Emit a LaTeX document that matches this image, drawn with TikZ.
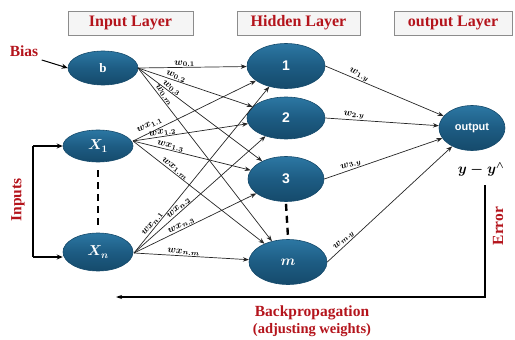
\documentclass[tikz,border=0pt]{standalone}
\usepackage{amsmath,bm}
\usepackage{fontspec}
\setmainfont{Liberation Serif}
\newfontfamily\labsans{Liberation Sans}
\usetikzlibrary{arrows.meta,shapes.geometric,calc}

\definecolor{nodeblue}{HTML}{1D5C83}
\definecolor{nodelight}{HTML}{2C77A3}
\definecolor{nodedark}{HTML}{154A6B}
\definecolor{titlered}{HTML}{B4141C}

\tikzset{
  neuron/.style={ellipse, draw=nodedark, line width=0.6pt,
    top color=nodelight, bottom color=nodedark, middle color=nodeblue,
    text=white, inner sep=0pt},
  layerbox/.style={draw=black!45, fill=black!4, line width=0.7pt,
    minimum height=24pt, inner sep=0pt, text=titlered,
    font=\fontsize{16}{18}\selectfont\bfseries},
  redtext/.style={text=titlered, font=\fontsize{15.5}{17}\selectfont\bfseries},
  wire/.style={-{Stealth[length=6pt,width=4.5pt]}, draw=black!85, line width=0.7pt},
  wlab/.style={sloped, above, inner sep=0.6pt, font=\fontsize{10}{11}\selectfont\boldmath},
  dotgap/.style={line width=2.4pt, dash pattern=on 7pt off 5pt},
  plainline/.style={draw=black, line width=1.1pt}
}

\begin{document}
\begin{tikzpicture}[x=1pt, y=-1pt]
\useasboundingbox (0,0) rectangle (515,340);

% layer titles
\node[layerbox, minimum width=125pt] (tin)  at (130.5,23) {Input Layer};
\node[layerbox, minimum width=123pt] (thid) at (298.5,23) {Hidden Layer};
\node[layerbox, minimum width=118pt] (tout) at (453,23)   {output Layer};

% input layer
\node[neuron, minimum width=70pt, minimum height=34pt, font=\fontsize{13}{14}\selectfont\bfseries] (b) at (103,68) {b};
\node[neuron, minimum width=70pt, minimum height=32pt, font=\fontsize{14}{15}\selectfont\boldmath] (x1) at (98,146) {$X_1$};
\node[neuron, minimum width=70pt, minimum height=38pt, font=\fontsize{14}{15}\selectfont\boldmath] (xn) at (98,252) {$X_n$};

% hidden layer
\node[neuron, minimum width=78pt, minimum height=45pt, font=\labsans\fontsize{14}{15}\selectfont\bfseries] (h1) at (286,66)  {1};
\node[neuron, minimum width=78pt, minimum height=42pt, font=\labsans\fontsize{14}{15}\selectfont\bfseries] (h2) at (286,118) {2};
\node[neuron, minimum width=76pt, minimum height=45pt, font=\labsans\fontsize{14}{15}\selectfont\bfseries] (h3) at (286,179) {3};
\node[neuron, minimum width=78pt, minimum height=45pt, font=\fontsize{15}{16}\selectfont\boldmath] (hm) at (288,262) {$m$};

% output layer
\node[neuron, minimum width=66pt, minimum height=45pt, font=\labsans\fontsize{11}{12}\selectfont\bfseries] (out) at (472,128) {output};

% bias input
\node[redtext] (bias) at (24,51) {Bias};
\draw[-{Stealth[length=6pt,width=5pt]}, line width=1pt] (bias.south east) -- (b.west);

% inputs bracket
\node[redtext, rotate=90] (inp) at (18,200) {Inputs};
\coordinate (brtop) at (33,146);
\coordinate (brbot) at (33,257);
\draw[plainline] (brtop) -- (brbot);
\draw[plainline, -{Stealth[length=6pt,width=5pt]}] (brtop) -- (x1.west);
\draw[plainline, -{Stealth[length=6pt,width=5pt]}] (brbot) -- (xn.west |- brbot);

% omitted units
\draw[dotgap] ($(x1.south)+(0,8)$) coordinate (d1) -- ($(xn.north)+(0,-6)$);
\draw[dotgap] ($(h3.south)+(0,2)$) coordinate (d2) -- ($(hm.north)+(0,-2)$);

% bias weights
\coordinate (bo) at (138,68);
\draw[wire] (bo) -- (h1) node[wlab, pos=0.43] {$w_{0.1}$};
\draw[wire] (bo) -- (h2) node[wlab, pos=0.32] {$w_{0.2}$};
\draw[wire] (bo) -- (h3) node[wlab, pos=0.25] {$w_{0.3}$};
\draw[wire] (bo) -- (hm) node[wlab, pos=0.17] {$w_{0.m}$};

% weights from x1
\coordinate (x1o) at (133,141);
\draw[wire] (x1o) -- (h1) node[wlab, pos=0.16, above=3pt] {$wx_{1.1}$};
\draw[wire] (x1o) -- (h2) node[wlab, pos=0.26] {$wx_{1.2}$};
\draw[wire] (x1o) -- (h3) node[wlab, pos=0.31] {$wx_{1.3}$};
\draw[wire] (x1o) -- (hm) node[wlab, pos=0.30] {$wx_{1.m}$};

% weights from xn
\coordinate (xno) at (134,253);
\draw[wire] (xno) -- (h1) node[wlab, pos=0.16] {$wx_{n.1}$};
\draw[wire] (xno) -- (h2) node[wlab, pos=0.36] {$wx_{n.2}$};
\draw[wire] (xno) -- (h3) node[wlab, pos=0.40] {$wx_{n.3}$};
\draw[wire] (xno) -- (hm) node[wlab, pos=0.43] {$wx_{n.m}$};

% hidden to output
\draw[wire] (h1.east) -- (out) node[wlab, pos=0.27] {$w_{1.y}$};
\draw[wire] (h2.east) -- (out) node[wlab, pos=0.25] {$w_{2.y}$};
\draw[wire] (h3.east) -- (out) node[wlab, pos=0.24] {$w_{3.y}$};
\draw[wire] (hm.east) -- (out) node[wlab, pos=0.16] {$w_{m.y}$};

% error and backpropagation
\node[font=\fontsize{14}{15}\selectfont\boldmath] (err) at (481,170) {$y - y^{\wedge}$};
\node[redtext, rotate=90] (errlab) at (498,226) {Error};
\coordinate (ecorner) at (485,297);
\coordinate (eend) at (116,297);
\draw[plainline, -{Stealth[length=6pt,width=4pt]}] (485,185) -- (ecorner) -- (eend);
\node[redtext] (bp) at (312,313) {Backpropagation};
\node[text=titlered, font=\fontsize{14.5}{16}\selectfont\bfseries] (adj) at (312,330) {(adjusting weights)};
\end{tikzpicture}
\end{document}
